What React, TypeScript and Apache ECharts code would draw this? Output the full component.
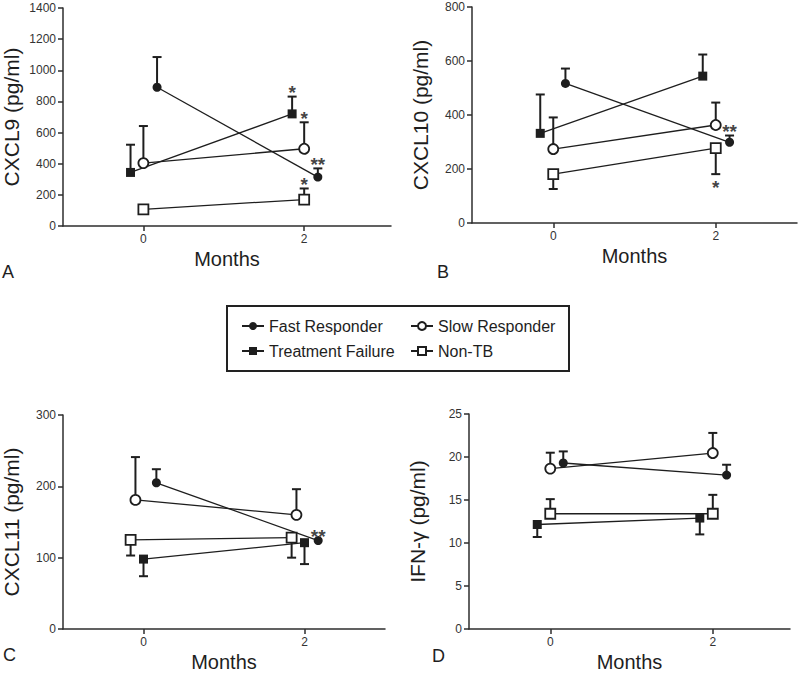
import React, { useEffect, useRef } from 'react';
import * as echarts from 'echarts';

// ---------------- data ----------------
const groups = ['Fast Responder', 'Slow Responder', 'Treatment Failure', 'Non-TB'];
const months = [0, 2];
const monthLabels = ['0', '2'];

// Panel A: CXCL9 (pg/ml) – mean and error-bar end
const cxcl9Fast = [891, 314];
const cxcl9FastErr = [1085, 370];
const cxcl9Slow = [404, 496];
const cxcl9SlowErr = [642, 666];
const cxcl9Failure = [344, 720];
const cxcl9FailureErr = [522, 831];
const cxcl9NonTB = [107, 170];
const cxcl9NonTBErr = [107, 241];
const cxcl9Stars = [
  { group: 2, t: 1, text: '*' },
  { group: 1, t: 1, text: '*' },
  { group: 0, t: 1, text: '**' },
  { group: 3, t: 1, text: '*' },
];

// Panel B: CXCL10 (pg/ml)
const cxcl10Fast = [517, 299];
const cxcl10FastErr = [572, 324];
const cxcl10Slow = [274, 363];
const cxcl10SlowErr = [391, 446];
const cxcl10Failure = [332, 544];
const cxcl10FailureErr = [476, 624];
const cxcl10NonTB = [181, 277];
const cxcl10NonTBErr = [126, 181];
const cxcl10Stars = [
  { group: 0, t: 1, text: '**' },
  { group: 3, t: 1, text: '*' },
];

// Panel C: CXCL11 (pg/ml)
const cxcl11Fast = [205, 124];
const cxcl11FastErr = [224, 124];
const cxcl11Slow = [181, 160];
const cxcl11SlowErr = [241, 196];
const cxcl11Failure = [98, 121];
const cxcl11FailureErr = [74, 91];
const cxcl11NonTB = [125, 128];
const cxcl11NonTBErr = [103, 100];
const cxcl11Stars = [{ group: 0, t: 1, text: '**' }];

// Panel D: IFN-γ (pg/ml)
const ifnFast = [19.3, 17.9];
const ifnFastErr = [20.65, 19.1];
const ifnSlow = [18.65, 20.46];
const ifnSlowErr = [20.5, 22.8];
const ifnFailure = [12.15, 12.9];
const ifnFailureErr = [10.7, 11.0];
const ifnNonTB = [13.4, 13.4];
const ifnNonTBErr = [15.1, 15.6];
const ifnStars: { group: number; t: number; text: string }[] = [];

// ---------------- layout / style ----------------
const FONT = '"Liberation Sans", Arial, Helvetica, sans-serif';
const INK = '#1e1e1e';
const AXIS = '#2e2e2e';

const panels = [
  {
    letter: 'A', title: 'CXCL9 (pg/ml)', yMax: 1400, yInterval: 200, xMax: 3.08,
    grid: { left: 59, top: 8, width: 332, height: 218 },
    means: [cxcl9Fast, cxcl9Slow, cxcl9Failure, cxcl9NonTB],
    errs: [cxcl9FastErr, cxcl9SlowErr, cxcl9FailureErr, cxcl9NonTBErr],
    dodge: [[0.17, 0.17], [0, 0], [-0.16, -0.15], [0, 0]],
    stars: cxcl9Stars, letterPos: [2, 272],
  },
  {
    letter: 'B', title: 'CXCL10 (pg/ml)', yMax: 800, yInterval: 200, xMax: 3,
    grid: { left: 472, top: 7, width: 325, height: 216 },
    means: [cxcl10Fast, cxcl10Slow, cxcl10Failure, cxcl10NonTB],
    errs: [cxcl10FastErr, cxcl10SlowErr, cxcl10FailureErr, cxcl10NonTBErr],
    dodge: [[0.15, 0.17], [0, 0], [-0.16, -0.16], [0, 0]],
    stars: cxcl10Stars, letterPos: [437, 272],
  },
  {
    letter: 'C', title: 'CXCL11 (pg/ml)', yMax: 300, yInterval: 100, xMax: 3,
    grid: { left: 59, top: 415, width: 326, height: 216 },
    means: [cxcl11Fast, cxcl11Slow, cxcl11Failure, cxcl11NonTB],
    errs: [cxcl11FastErr, cxcl11SlowErr, cxcl11FailureErr, cxcl11NonTBErr],
    dodge: [[0.16, 0.17], [-0.1, -0.1], [0, 0], [-0.16, -0.16]],
    stars: cxcl11Stars, letterPos: [3, 655],
  },
  {
    letter: 'D', title: 'IFN-γ (pg/ml)', yMax: 25, yInterval: 5, xMax: 2.95,
    grid: { left: 469, top: 414, width: 321, height: 217 },
    means: [ifnFast, ifnSlow, ifnFailure, ifnNonTB],
    errs: [ifnFastErr, ifnSlowErr, ifnFailureErr, ifnNonTBErr],
    dodge: [[0.16, 0.17], [0, 0], [-0.16, -0.16], [0, 0]],
    stars: ifnStars, letterPos: [432, 656],
  },
];

const groupStyles = [
  { symbol: 'circle', symbolSize: 9, itemStyle: { color: INK } },
  { symbol: 'circle', symbolSize: 10, itemStyle: { color: '#fff', borderColor: INK, borderWidth: 1.8 } },
  { symbol: 'rect', symbolSize: 9, itemStyle: { color: INK } },
  { symbol: 'rect', symbolSize: 10, itemStyle: { color: '#fff', borderColor: INK, borderWidth: 1.8 } },
];

// legend laid out in two columns
const legendColumns = [
  { names: [groups[0], groups[2]], left: 241 },
  { names: [groups[1], groups[3]], left: 410 },
];

function buildOption() {
  const grid: any[] = [];
  const xAxis: any[] = [];
  const yAxis: any[] = [];
  const series: any[] = [];
  const graphic: any[] = [];

  panels.forEach((p, pi) => {
    grid.push({ ...p.grid, containLabel: false });
    xAxis.push({
      type: 'value', gridIndex: pi, min: -1, max: p.xMax,
      name: 'Months', nameLocation: 'middle', nameGap: 23,
      nameTextStyle: { fontFamily: FONT, fontSize: 20, color: INK },
      axisLine: { show: true, onZero: false, lineStyle: { color: AXIS, width: 1.5 } },
      axisTick: { show: true, customValues: months, length: 5, lineStyle: { color: AXIS, width: 1.5 } },
      axisLabel: {
        customValues: months, margin: 7, fontFamily: FONT, fontSize: 12, color: '#333',
        formatter: (v: number) => monthLabels[months.indexOf(v)] ?? '',
      },
      splitLine: { show: false },
    });
    yAxis.push({
      type: 'value', gridIndex: pi, min: 0, max: p.yMax, interval: p.yInterval,
      name: p.title, nameLocation: 'middle', nameGap: 41,
      nameTextStyle: { fontFamily: FONT, fontSize: 21, color: INK },
      axisLine: { show: true, onZero: false, lineStyle: { color: AXIS, width: 1.5 } },
      axisTick: { show: true, length: 5, lineStyle: { color: AXIS, width: 1.5 } },
      axisLabel: {
        margin: 7, fontFamily: FONT, fontSize: 12, color: '#333',
        formatter: (v: number) => String(v),
      },
      splitLine: { show: false },
    });

    groups.forEach((g, gi) => {
      const pts = months.map((m, ti) => [m + p.dodge[gi][ti], p.means[gi][ti], p.errs[gi][ti]]);
      series.push({
        type: 'custom', xAxisIndex: pi, yAxisIndex: pi, z: 2, silent: true,
        data: pts,
        renderItem: (_params: any, api: any) => {
          const x = api.value(0), y = api.value(1), e = api.value(2);
          if (e === y) return { type: 'group', children: [] };
          const a = api.coord([x, y]);
          const b = api.coord([x, e]);
          const cap = 4.5;
          return {
            type: 'group',
            children: [
              { type: 'line', shape: { x1: a[0], y1: a[1], x2: b[0], y2: b[1] }, style: { stroke: INK, lineWidth: 2 } },
              { type: 'line', shape: { x1: b[0] - cap, y1: b[1], x2: b[0] + cap, y2: b[1] }, style: { stroke: INK, lineWidth: 2 } },
            ],
          };
        },
      });
      series.push({
        type: 'line', name: g, xAxisIndex: pi, yAxisIndex: pi, z: 3,
        data: pts.map((d) => [d[0], d[1]]),
        ...groupStyles[gi],
        lineStyle: { color: INK, width: 1.3 },
        emphasis: { disabled: true },
      });
    });

    if (p.stars.length) {
      series.push({
        type: 'scatter', xAxisIndex: pi, yAxisIndex: pi, z: 4, silent: true,
        symbolSize: 0,
        data: p.stars.map((s) => {
          const m = months[s.t] + p.dodge[s.group][s.t];
          const mean = p.means[s.group][s.t];
          const err = p.errs[s.group][s.t];
          const up = err >= mean;
          return {
            value: [m, err],
            label: {
              show: true, formatter: s.text, position: 'inside',
              offset: [0, up ? -4 : 13],
              fontFamily: FONT, fontSize: 19, fontWeight: 'bold', color: '#111',
            },
          };
        }),
      });
    }

    graphic.push({
      type: 'text', x: p.letterPos[0], y: p.letterPos[1],
      style: { text: p.letter, font: `18px ${FONT}`, fill: INK, verticalAlign: 'middle' },
    });
  });

  // legend frame
  graphic.push({
    type: 'rect', shape: { x: 227, y: 306, width: 342, height: 65 },
    style: { fill: 'none', stroke: '#222', lineWidth: 2 },
  });

  const legend = legendColumns.map((c) => ({
    left: c.left, top: 318, orient: 'vertical',
    padding: 0, itemGap: 9, itemWidth: 22, itemHeight: 10,
    selectedMode: false,
    data: c.names,
    textStyle: { fontFamily: FONT, fontSize: 16, color: INK },
  }));

  return {
    animation: false,
    backgroundColor: '#fff',
    grid, xAxis, yAxis, series, graphic, legend,
  };
}

export default function App() {
  const ref = useRef<HTMLDivElement>(null);
  useEffect(() => {
    if (!ref.current) return;
    const chart = echarts.init(ref.current, undefined, { renderer: 'svg' });
    chart.setOption(buildOption() as any);
    return () => chart.dispose();
  }, []);
  return (
    <div
      ref={ref}
      style={{ position: 'absolute', left: 0, top: 0, width: 800, height: 673, background: '#fff' }}
    />
  );
}
